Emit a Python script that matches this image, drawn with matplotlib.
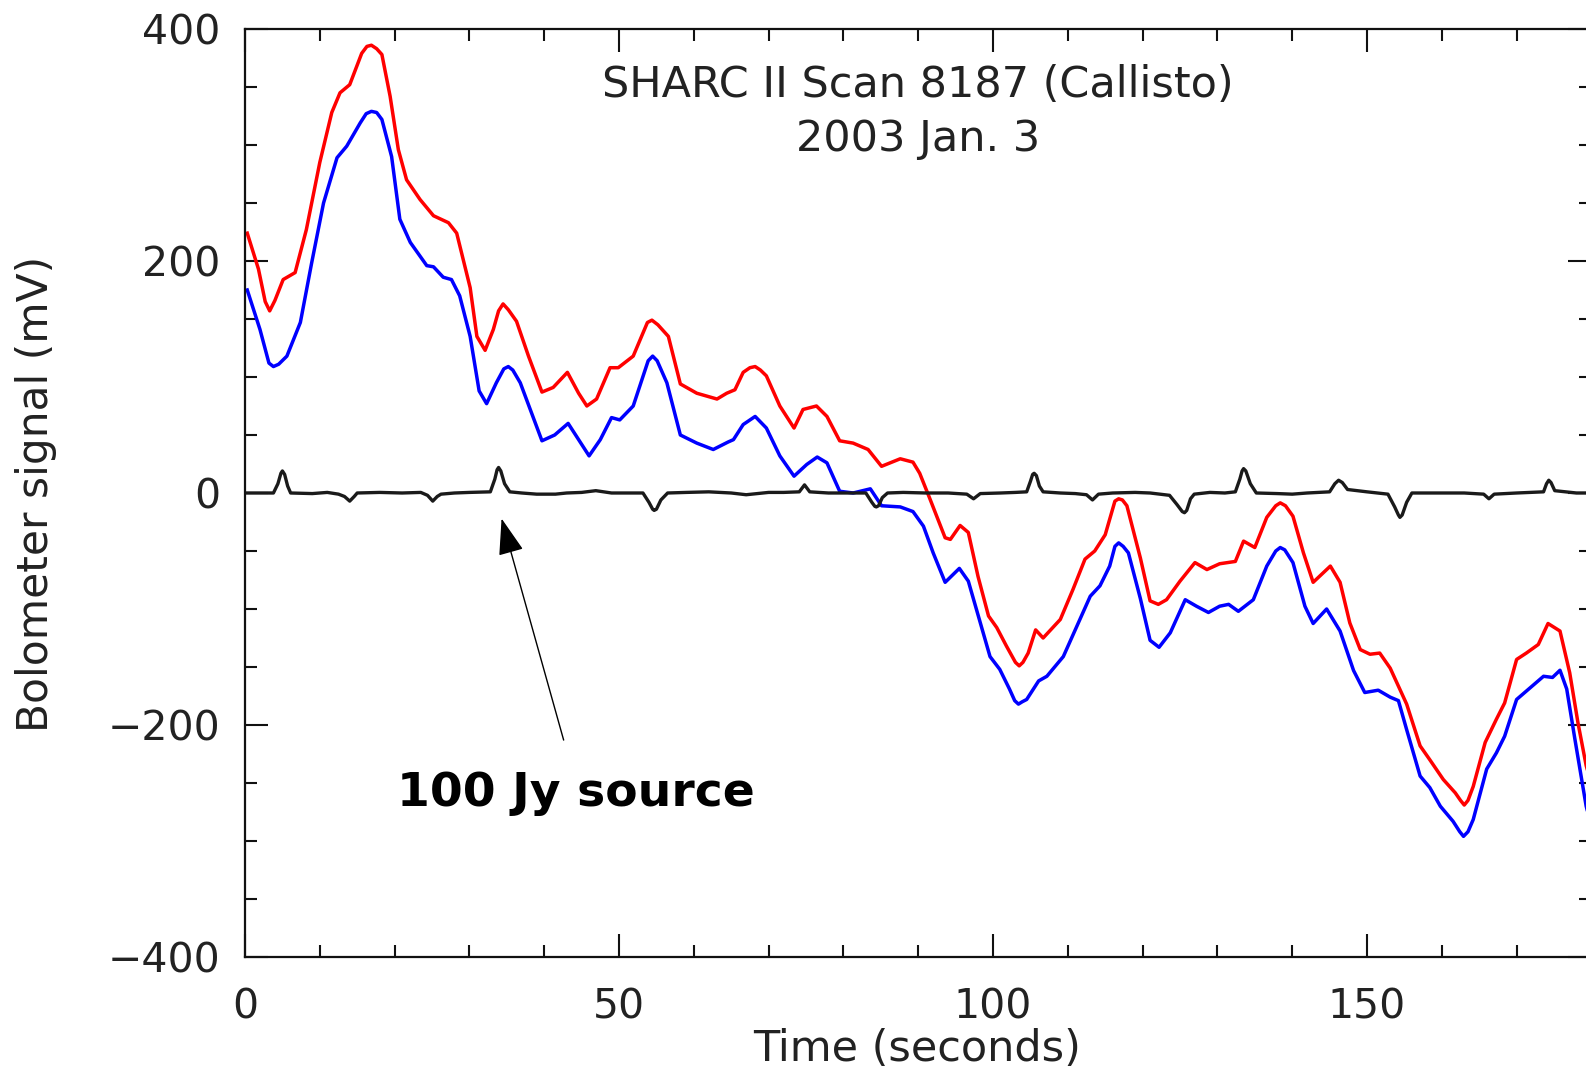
import matplotlib
matplotlib.use("Agg")
import matplotlib.pyplot as plt
from matplotlib.ticker import MultipleLocator

# signal traces (time in s, signal in mV)
red_t = [0.3, 1.8, 2.7, 3.3, 4.0, 5.1, 6.7, 8.2, 10.0, 11.6, 12.7, 14.0, 15.6, 16.3, 16.9,
         17.6, 18.3, 19.4, 20.5, 21.6, 23.4, 25.2, 27.2, 28.3, 30.1, 31.0, 32.1, 33.2, 33.9,
         34.5, 35.2, 36.3, 37.9, 39.7, 41.2, 43.1, 44.6, 45.7, 47.0, 48.8, 49.9, 51.9, 53.8,
         54.4, 55.2, 56.6, 58.2, 60.4, 63.1, 64.4, 65.5, 66.6, 67.5, 68.2, 68.9, 69.7, 71.5,
         73.4, 74.6, 76.4, 77.8, 79.5, 81.3, 83.3, 85.1, 87.6, 89.3, 90.2, 91.6, 93.6, 94.3,
         95.6, 96.7, 98.0, 99.4, 100.5, 101.8, 103.0, 103.5, 104.0, 104.7, 105.7, 106.7,
         109.0, 110.7, 112.3, 113.6, 115.0, 116.3, 116.8, 117.3, 117.9, 119.7, 121.0, 122.1,
         123.2, 125.0, 127.0, 128.6, 130.3, 132.4, 133.5, 135.0, 136.6, 137.8, 138.4, 139.1,
         140.1, 141.5, 142.8, 145.1, 146.4, 147.7, 149.1, 150.4, 151.7, 153.1, 155.3, 157.1,
         158.4, 160.2, 161.8, 162.5, 163.0, 163.5, 164.2, 165.8, 167.3, 168.4, 170.0, 171.3,
         172.9, 174.2, 175.8, 177.1, 178.2, 179.3, 180.5]
red_v = [224, 193, 165, 157, 166, 184, 190, 227, 285, 328, 345, 352, 379, 385, 386,
         383, 378, 342, 296, 270, 253, 239, 233, 224, 177, 135, 123, 141, 157,
         163, 158, 148, 118, 87, 91, 104, 86, 75, 81, 108, 108, 118, 147,
         149, 145, 135, 94, 86, 81, 86, 89, 104, 108, 109, 106, 101, 75,
         56, 72, 75, 66, 45, 43, 37.5, 23, 29.5, 26.6, 17, -5.6, -38.6, -40,
         -28, -34, -72, -106, -116, -132, -146, -149, -146, -138, -118, -125,
         -109, -83, -57, -50, -36, -7, -5, -6, -11, -56, -93, -96,
         -92, -76, -60, -66, -61, -59, -41.5, -47, -21, -11, -8.5, -11,
         -20, -51.6, -77, -63, -77, -112, -135, -139, -138, -151, -182, -218,
         -230, -247, -258.5, -265, -269, -265, -253, -215, -195, -181, -143.5, -138,
         -130.6, -112.5, -119, -155, -198, -235, -262]

blue_t = [0.3, 2.0, 3.2, 3.8, 4.5, 5.6, 7.4, 8.9, 10.5, 12.3, 13.6, 15.4, 16.2, 16.9, 17.6,
          18.3, 19.6, 20.7, 22.1, 24.3, 25.2, 26.5, 27.6, 28.7, 30.1, 31.3, 32.3, 33.6, 34.6,
          35.2, 35.8, 36.8, 39.7, 41.4, 43.2, 44.3, 46.0, 47.5, 49.0, 50.1, 51.9, 53.9, 54.5,
          55.1, 56.4, 58.2, 60.4, 62.6, 64.6, 65.3, 66.6, 68.2, 69.7, 71.5, 73.4, 75.1, 76.5,
          77.8, 79.5, 81.3, 83.6, 85.1, 87.6, 89.3, 90.7, 92.0, 93.6, 95.5, 96.7, 98.3, 99.6,
          100.9, 102.2, 102.9, 103.4, 103.9, 104.5, 106.1, 107.2, 109.4, 111.2, 113.0, 114.3,
          115.6, 116.3, 116.8, 117.4, 118.1, 119.7, 121.0, 122.2, 123.7, 125.7, 127.2, 128.8,
          130.3, 131.5, 132.8, 134.8, 136.6, 137.8, 138.4, 139.0, 140.1, 141.7, 142.8, 144.6,
          146.4, 148.2, 149.7, 151.5, 153.1, 154.2, 155.3, 157.1, 158.4, 159.8, 161.5, 162.4,
          162.9, 163.5, 164.2, 166.0, 167.3, 168.4, 170.0, 171.8, 173.6, 174.8, 175.8, 176.7,
          177.8, 179.3, 180.5]
blue_v = [175, 141, 112, 109, 111, 118, 147, 198, 250, 289, 299, 319, 327, 329, 328,
          322, 290, 236, 216, 196, 195, 186, 184, 170, 135, 88, 77, 95, 107,
          109, 106, 95, 45, 50, 60, 49, 32, 46, 65, 63, 75, 114, 118,
          114, 95, 50, 43, 37.5, 44, 46, 59, 66, 56, 32, 14.5, 24.6, 31,
          26, 1.5, 0, 3.6, -11, -12, -16, -28.6, -51.6, -77, -65, -76, -112, -141,
          -152, -169, -179, -182, -180, -178, -162, -158, -141, -115, -89, -80,
          -63, -46, -43, -46, -51.6, -91, -127, -133, -120.5, -92, -97.6, -103,
          -97.6, -96, -102, -92, -63, -50, -47, -49, -60, -97.6, -112.5, -100,
          -119, -153, -172, -170, -176, -179, -204, -244, -254, -270, -283, -292,
          -296, -292, -281.5, -238, -224, -209.7, -178, -168, -158, -159, -152.8, -169,
          -212.5, -270, -300]

diff_t = [0, 3.8, 4.4, 4.8, 5.0, 5.3, 5.7, 6.1, 9, 11, 12.5, 13.3, 14.0, 14.6, 15.0, 18,
          21, 23.5, 24.4, 25.1, 25.7, 26.2, 28, 30, 32.8, 33.4, 33.7, 33.9, 34.2, 34.7,
          35.4, 37, 39, 41.5, 43, 45, 46.9, 49, 51, 53.2, 54.0, 54.5, 54.7, 55.0, 55.6,
          56.5, 59, 62, 65, 67, 70, 72, 74.1, 74.8, 75.5, 78, 81, 83.0, 83.8, 84.2, 84.4,
          84.7, 85.2, 85.9, 88, 91, 94, 96.5, 97.4, 98.3, 101, 103, 104.5, 105.0, 105.3,
          105.5, 105.8, 106.2, 106.7, 109, 111, 112.5, 113.3, 114.1, 116, 119, 121, 123.6,
          124.6, 125.3, 125.6, 125.9, 126.4, 126.9, 129, 131, 132.4, 133.0, 133.3, 133.5,
          133.8, 134.4, 135.2, 138, 140, 142, 145.0, 145.7, 146.2, 146.7, 147.4, 150,
          152.8, 153.7, 154.2, 154.4, 154.7, 155.3, 156.0, 160, 163, 165.6, 166.3, 167.0,
          170, 173.6, 174.0, 174.3, 174.6, 175.1, 178, 180.5]
diff_v = [0, 0, 8, 17, 19, 16, 6, 0, -0.5, 0.5, -1, -3, -7, -3, 0, 0.5,
          0, 0.5, -2, -7, -3, -1, 0, 0.5, 1, 12, 20, 22, 19, 8,
          1, 0, -1, -1, 0, 0.5, 2, 0, 0, 0, -8, -14, -15, -14, -6,
          0, 0.5, 1, 0, -1.5, 0.5, 0.5, 1, 7, 1, 0, 0, 0, -8, -11.5, -12,
          -11, -4, 0, 0.5, 0, 0, -1, -5, -0.5, 0, 0.5, 1, 10, 16,
          17, 15, 6, 1, 0, -0.5, -1.5, -6, -1, 0, 0.5, 0, -2,
          -10, -16, -17, -15, -5, -1, 0.5, 0, 1, 12, 19, 21,
          19, 8, 0, -0.5, -1, 0, 1, 8, 11, 9, 3, 1,
          -1, -12, -19, -21, -19, -8, 0, 0, 0, -1, -5, -1,
          0, 1, 8, 11, 9, 2, 0, 0]

fig = plt.figure(figsize=(15.86, 10.75), dpi=100)
ax = fig.add_axes([0.15448, 0.10977, 0.84893, 0.86326])

ax.plot(red_t, red_v, color='#ff0000', lw=2.5, solid_joinstyle='round')
ax.plot(blue_t, blue_v, color='#0000ff', lw=2.5, solid_joinstyle='round')
ax.plot(diff_t, diff_v, color='#1a1a1a', lw=2.4, solid_joinstyle='round')

ax.set_xlim(0, 180)
ax.set_ylim(-400, 400)

# ticks inside on all four sides, like the original plot
ax.xaxis.set_major_locator(MultipleLocator(50))
ax.xaxis.set_minor_locator(MultipleLocator(10))
ax.yaxis.set_major_locator(MultipleLocator(200))
ax.yaxis.set_minor_locator(MultipleLocator(50))
ax.tick_params(which='both', direction='in', top=True, right=True, width=1.5, color='#111111')
ax.tick_params(which='major', length=16.5)
ax.tick_params(which='minor', length=8.6)
ax.tick_params(axis='y', which='major', labelsize=29.5, pad=18, labelcolor='#222222')
ax.tick_params(axis='x', which='major', labelsize=29.5, pad=22, labelcolor='#222222')
for s in ax.spines.values():
    s.set_linewidth(1.6)
    s.set_color('#111111')

ax.text(90, 341, 'SHARC II Scan 8187 (Callisto)', ha='center', va='baseline',
        fontsize=31, color='#222222')
ax.text(90, 294.6, '2003 Jan. 3', ha='center', va='baseline', fontsize=31, color='#222222')

fig.text(917.5 / 1586, 1 - 1049 / 1075, 'Time (seconds)', ha='center', va='center',
         fontsize=31, color='#222222')
fig.text(36.4 / 1586, 1 - 494 / 1075, 'Bolometer signal (mV)', ha='center', va='center',
         rotation=90, fontsize=30.5, color='#222222')

# arrow pointing at the source spike
ax.annotate('', xy=(34.3, -22), xytext=(42.6, -213),
            arrowprops=dict(arrowstyle='-|>,head_length=1.15,head_width=0.4',
                            mutation_scale=20, lw=1, color='black',
                            shrinkA=0, shrinkB=0))
ax.text(20.3, -270, '100 Jy source', ha='left', va='baseline', fontsize=34,
        fontweight='bold', color='black')

fig.savefig('out.png', dpi=100)
